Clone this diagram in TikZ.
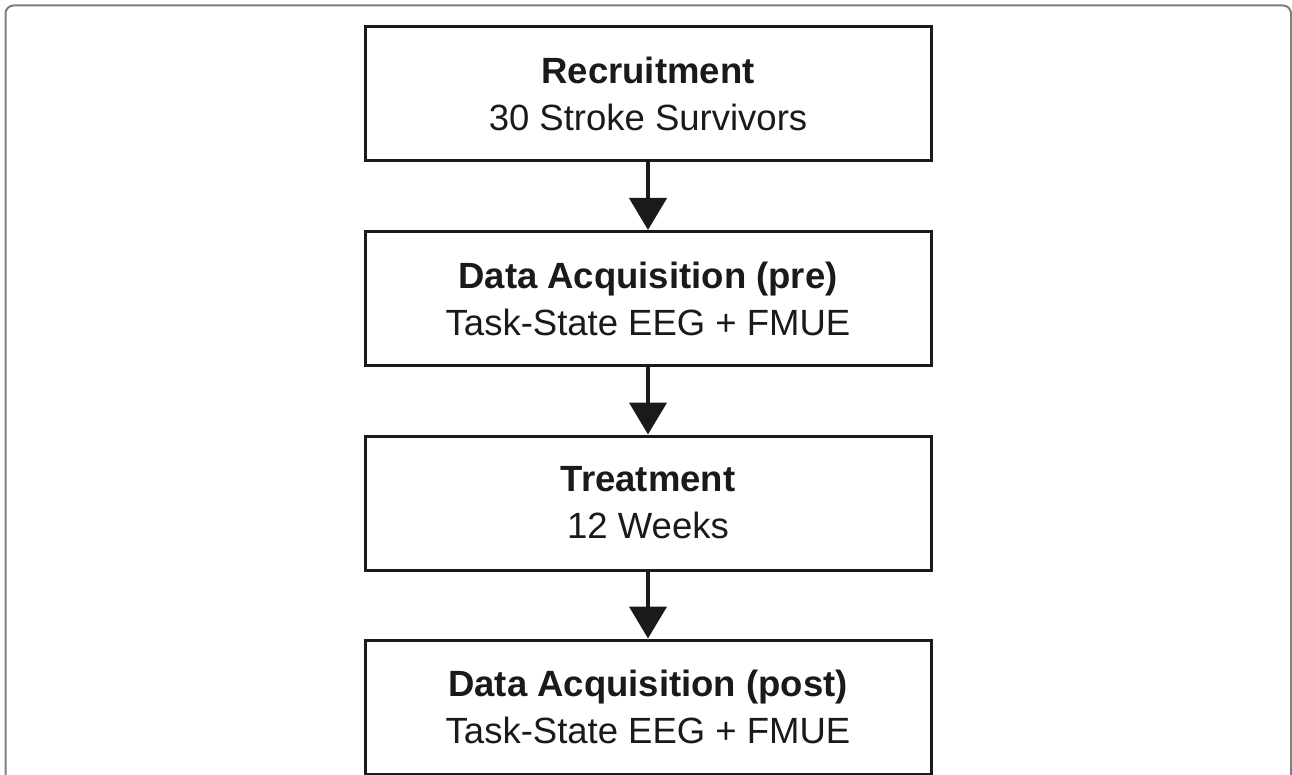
\documentclass[tikz,border=0pt]{standalone}
\usepackage{fontspec}
\setmainfont{Liberation Sans}
\usetikzlibrary{arrows.meta}
\definecolor{ink}{HTML}{1A1A1A}
\definecolor{framegray}{HTML}{7F7F7F}
\begin{document}
\begin{tikzpicture}[x=1pt,y=-1pt,
  stagebox/.style={draw=ink, line width=3pt, minimum width=566pt, minimum height=134pt,
    align=center, inner sep=0pt, font=\fontsize{36.5}{47}\selectfont, text=ink},
  flowarrow/.style={draw=ink, line width=4.5pt, -{Triangle[width=37pt,length=32pt]}}]
\clip (0,0) rectangle (1292,775);
\useasboundingbox (0,0) rectangle (1292,775);
\fill[white] (0,0) rectangle (1292,775);
\draw[framegray, line width=2pt, rounded corners=8pt] (5.5,5.5) rectangle (1291,830);
\node[stagebox] (rec) at (648,94) {\textbf{Recruitment}\\30 Stroke Survivors};
\node[stagebox] (pre) at (648,298.5) {\textbf{Data Acquisition (pre)}\\Task-State EEG + FMUE};
\node[stagebox] (treat) at (648,503) {\textbf{Treatment}\\12 Weeks};
\node[stagebox] (post) at (648,707) {\textbf{Data Acquisition (post)}\\Task-State EEG + FMUE};
\draw[flowarrow] (rec) -- (pre);
\draw[flowarrow] (pre) -- (treat);
\draw[flowarrow] (treat) -- (post);
\end{tikzpicture}
\end{document}
